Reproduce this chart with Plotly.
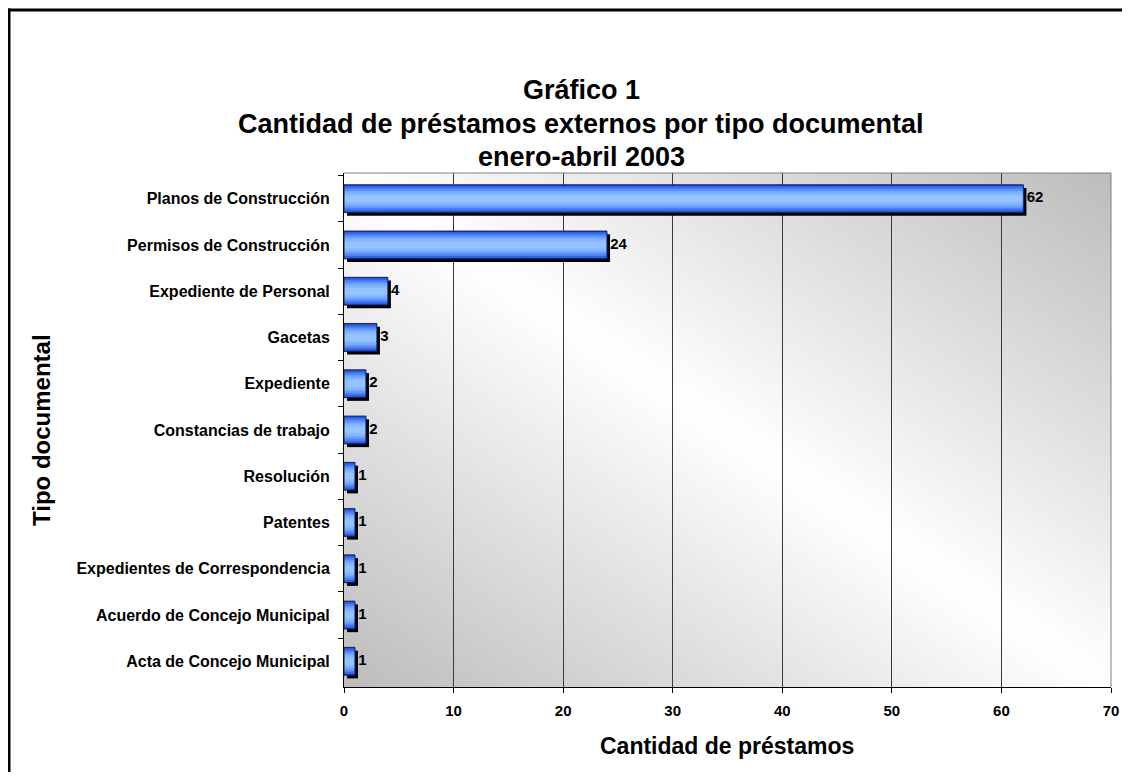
import base64
import plotly.graph_objects as go

# ---- data ----
categorias = [
    "Planos de Construcción",
    "Permisos de Construcción",
    "Expediente de Personal",
    "Gacetas",
    "Expediente",
    "Constancias de trabajo",
    "Resolución",
    "Patentes",
    "Expedientes de Correspondencia",
    "Acuerdo de Concejo Municipal",
    "Acta de Concejo Municipal",
]
prestamos = [62, 24, 4, 3, 2, 2, 1, 1, 1, 1, 1]
x_ticks = [0, 10, 20, 30, 40, 50, 60, 70]

titulo = ["Gráfico 1", "Cantidad de préstamos externos por tipo documental", "enero-abril 2003"]
titulo_x = "Cantidad de préstamos"
titulo_y = "Tipo documental"

# ---- layout geometry ----
# the page body has an 8px margin, so the figure is placed at (8, 8)
OFF = 8
W, H = 1130 - 2 * OFF, 780 - 2 * OFF
PLOT_L, PLOT_R, PLOT_T, PLOT_B = 344, 1111, 173, 687   # page pixels
L = PLOT_L - OFF
R = W - (PLOT_R - OFF)
T = PLOT_T - OFF
B = H - (PLOT_B - OFF)
PW, PH = PLOT_R - PLOT_L, PLOT_B - PLOT_T
FONT = "Liberation Sans, Arial, sans-serif"


def px_x(px):
    return (px - PLOT_L) / PW


def px_y(py):
    return (PLOT_B - py) / PH


fig = go.Figure()

# shadow
fig.add_trace(go.Bar(
    y=categorias, x=prestamos, base=0.28, orientation="h",
    width=0.6, offset=-0.3 + 0.07,
    marker=dict(color="black", line=dict(width=0)),
    hoverinfo="skip", showlegend=False,
))

# gradient layers for bars
layers = [
    (0.60, "#1f3fc0"),
    (0.56, "#2f62e8"),
    (0.48, "#4a80f4"),
    (0.40, "#6298fa"),
    (0.32, "#78abfd"),
    (0.24, "#88b9ff"),
    (0.14, "#94c3ff"),
]
for w, c in layers:
    fig.add_trace(go.Bar(
        y=categorias, x=prestamos, orientation="h",
        width=w, offset=-w / 2,
        marker=dict(color=c, line=dict(width=0)),
        hoverinfo="skip", showlegend=False,
    ))

# outline
fig.add_trace(go.Bar(
    y=categorias, x=prestamos, orientation="h",
    width=0.6, offset=-0.3,
    marker=dict(color="rgba(0,0,0,0)", line=dict(width=1, color="#15205a")),
    hoverinfo="skip", showlegend=False,
))

# data labels
fig.add_trace(go.Scatter(
    y=categorias, x=[v + 0.3 for v in prestamos], mode="text",
    text=["<b>%d</b>" % v for v in prestamos], textposition="middle right",
    textfont=dict(family=FONT, size=15, color="black"),
    hoverinfo="skip", showlegend=False, cliponaxis=False,
))

# background gradient image (svg)
svg = (
    '<svg xmlns="http://www.w3.org/2000/svg" width="767" height="514" '
    'preserveAspectRatio="none" viewBox="0 0 767 514">'
    '<defs><linearGradient id="g" x1="0" y1="1" x2="1" y2="0">'
    '<stop offset="0" stop-color="#bcbcbc"/>'
    '<stop offset="0.5" stop-color="#ffffff"/>'
    '<stop offset="1" stop-color="#bcbcbc"/>'
    '</linearGradient></defs>'
    '<rect x="0" y="0" width="767" height="514" fill="url(#g)"/></svg>'
)
src = "data:image/svg+xml;base64," + base64.b64encode(svg.encode()).decode()

fig.update_layout(
    width=W, height=H,
    margin=dict(l=L, r=R, t=T, b=B, pad=0, autoexpand=False),
    paper_bgcolor="white",
    plot_bgcolor="rgba(0,0,0,0)",
    barmode="overlay",
    font=dict(family=FONT, color="black"),
    images=[dict(source=src, xref="paper", yref="paper", x=0, y=1,
                 sizex=1, sizey=1, sizing="stretch", xanchor="left",
                 yanchor="top", layer="below")],
    xaxis=dict(
        range=[0, 70], tickvals=x_ticks, ticktext=[str(t) for t in x_ticks],
        showgrid=True, gridcolor="#3a3a3a", gridwidth=1,
        showline=True, linecolor="black", linewidth=1,
        ticks="outside", ticklen=5, tickcolor="black",
        tickfont=dict(family=FONT, size=15, color="black", weight="bold"),
        ticklabelstandoff=5, automargin=False,
        zeroline=False, fixedrange=True,
    ),
    yaxis=dict(
        categoryorder="array", categoryarray=categorias, autorange="reversed",
        showgrid=False, showline=True, linecolor="black", linewidth=1,
        ticks="outside", ticklen=5, tickcolor="black", tickson="boundaries",
        tickfont=dict(family=FONT, size=16, color="black", weight="bold"),
        ticklabelstandoff=10, automargin=False, fixedrange=True,
    ),
    shapes=[
        # plot area frame top/right in grey
        dict(type="line", xref="paper", yref="paper", x0=0, x1=1, y0=1, y1=1,
             line=dict(color="#808080", width=1)),
        dict(type="line", xref="paper", yref="paper", x0=1, x1=1, y0=0, y1=1,
             line=dict(color="#808080", width=1)),
        # outer chart border (top and left edges; right/bottom lie off-page)
        dict(type="line", xref="paper", yref="paper",
             x0=px_x(7), x1=px_x(1140), y0=px_y(10), y1=px_y(10),
             line=dict(color="black", width=3)),
        dict(type="line", xref="paper", yref="paper",
             x0=px_x(9), x1=px_x(9), y0=px_y(8.5), y1=px_y(800),
             line=dict(color="black", width=3)),
    ],
    annotations=[
        dict(text="<b>%s</b>" % titulo[0], xref="paper", yref="paper",
             x=px_x(581), y=px_y(90), xanchor="center", yanchor="middle",
             showarrow=False, font=dict(family=FONT, size=27)),
        dict(text="<b>%s</b>" % titulo[1], xref="paper", yref="paper",
             x=px_x(581), y=px_y(124), xanchor="center", yanchor="middle",
             showarrow=False, font=dict(family=FONT, size=27)),
        dict(text="<b>%s</b>" % titulo[2], xref="paper", yref="paper",
             x=px_x(581), y=px_y(157), xanchor="center", yanchor="middle",
             showarrow=False, font=dict(family=FONT, size=27)),
        dict(text="<b>%s</b>" % titulo_x, xref="paper", yref="paper",
             x=px_x(727), y=px_y(746), xanchor="center", yanchor="middle",
             showarrow=False, font=dict(family=FONT, size=23)),
        dict(text="<b>%s</b>" % titulo_y, xref="paper", yref="paper",
             x=px_x(41), y=px_y(430), xanchor="center", yanchor="middle",
             textangle=-90, showarrow=False, font=dict(family=FONT, size=24)),
    ],
)

fig.write_html("out.html")
